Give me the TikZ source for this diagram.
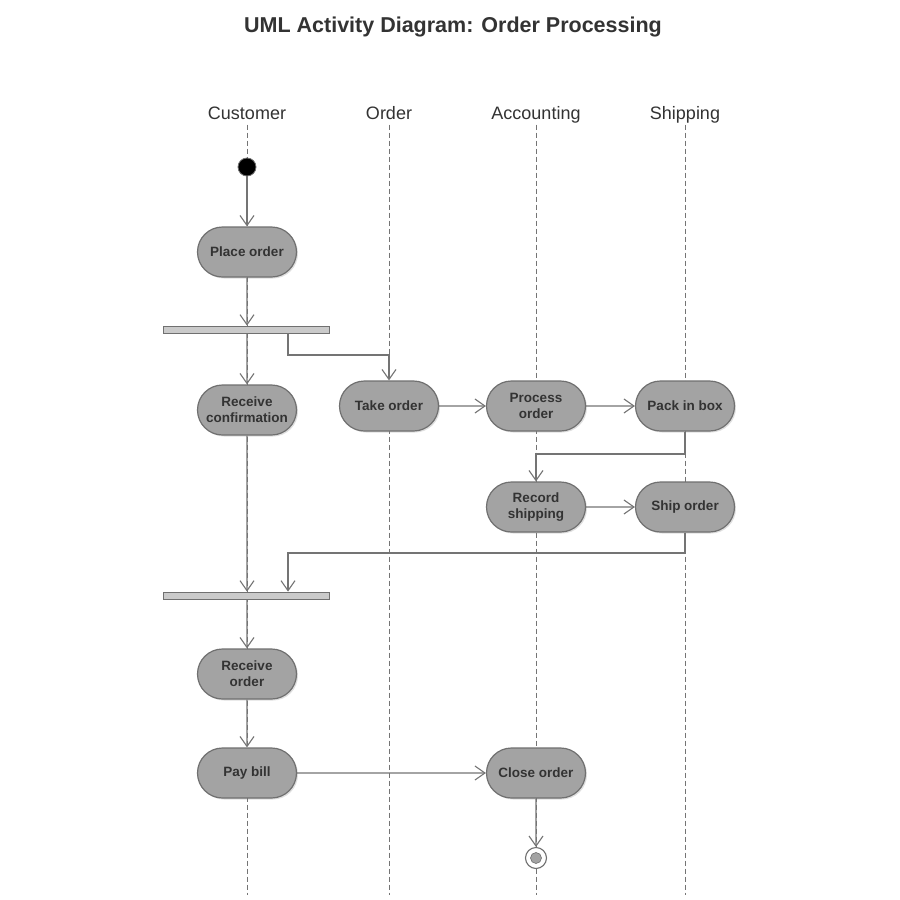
\documentclass[tikz,border=0pt]{standalone}
\usepackage{fontspec}
\setmainfont{Liberation Sans}
\usetikzlibrary{arrows.meta,shadows,shapes.misc}
\definecolor{nodefill}{HTML}{A3A3A3}
\definecolor{nodeline}{HTML}{707070}
\definecolor{flow}{HTML}{747474}
\definecolor{barfill}{HTML}{CACACA}
\definecolor{txt}{HTML}{333333}
\begin{document}
\begin{tikzpicture}[x=1pt,y=-1pt,
  act/.style={rounded rectangle, draw=nodeline, line width=1.2pt, fill=nodefill,
    minimum width=99pt, minimum height=50pt, inner sep=0pt, align=center,
    font=\fontsize{13.5}{16}\selectfont\bfseries, text=txt,
    drop shadow={shadow xshift=1.5pt, shadow yshift=-1.5pt, opacity=0.25}},
  bar/.style={draw=nodeline, fill=barfill, line width=0.8pt, minimum width=166pt, minimum height=7pt, inner sep=0pt},
  lane/.style={draw=flow, line width=0.9pt, dash pattern=on 5pt off 3pt},
  lanelabel/.style={font=\fontsize{18}{20}\selectfont, text=txt, text height=13pt, text depth=4pt, inner sep=1pt},
  flowline/.style={draw=flow, line width=1.1pt, -{Straight Barb[length=10pt,width=14pt,line width=1.1pt]}}]
\useasboundingbox (0,0) rectangle (900,900);
\fill[white] (0,0) rectangle (900,900);
% title
\node[font=\fontsize{21.5}{24}\selectfont\bfseries, text=txt] (title) at (453,27) {UML Activity Diagram: Order Processing};
% lane labels
\node[lanelabel] (lc) at (247,115) {Customer};
\node[lanelabel] (lo) at (389,115) {Order};
\node[lanelabel] (la) at (536,115) {Accounting};
\node[lanelabel] (ls) at (685,115) {Shipping};
\coordinate (ec) at (247,895);
\coordinate (eo) at (389,895);
\coordinate (ea) at (536,895);
\coordinate (es) at (685,895);
\draw[lane] (lc.south) -- (ec);
\draw[lane] (lo.south) -- (eo);
\draw[lane] (la.south) -- (ea);
\draw[lane] (ls.south) -- (es);
% nodes
\node[circle, fill=black, draw=nodeline, line width=0.8pt, minimum size=18pt, inner sep=0pt] (start) at (247,167) {};
\node[act] (place) at (247,252) {Place order};
\node[bar] (fork) at (246,329.5) {};
\node[act] (recconf) at (247,410) {Receive\\confirmation};
\node[act] (take) at (389,406) {Take order};
\node[act] (proc) at (536,406) {Process\\order};
\node[act] (pack) at (685,406) {Pack in box};
\node[act] (rec) at (536,507) {Record\\shipping};
\node[act] (ship) at (685,507) {Ship order};
\node[bar] (join) at (246,595.5) {};
\node[act] (record) at (247,674) {Receive\\order};
\node[act] (pay) at (247,773) {Pay bill};
\node[act] (close) at (536,773) {Close order};
\node[circle, draw=nodeline, line width=1.1pt, fill=white, minimum size=21pt, inner sep=0pt] (end) at (536,858) {};
\node[circle, fill=nodefill, draw=nodeline, line width=0.6pt, minimum size=11pt, inner sep=0pt] (endin) at (end.center) {};
% flows
\draw[flowline] (start) -- (place);
\draw[flowline] (place) -- (place.south |- fork.north);
\draw[flowline] (place.south |- fork.south) -- (recconf);
\draw[flowline] (fork.south -| 288,0) |- (take.north |- 0,355) -- (take.north);
\draw[flowline] (take) -- (proc);
\draw[flowline] (proc) -- (pack);
\draw[flowline] (pack.south) |- (rec.north |- 0,454) -- (rec.north);
\draw[flowline] (rec) -- (ship);
\draw[flowline] (ship.south) |- (288,553) -- (join.north -| 288,0);
\draw[flowline] (recconf) -- (recconf.south |- join.north);
\draw[flowline] (recconf.south |- join.south) -- (record);
\draw[flowline] (record) -- (pay);
\draw[flowline] (pay) -- (close);
\draw[flowline] (close) -- (end);
\end{tikzpicture}
\end{document}
